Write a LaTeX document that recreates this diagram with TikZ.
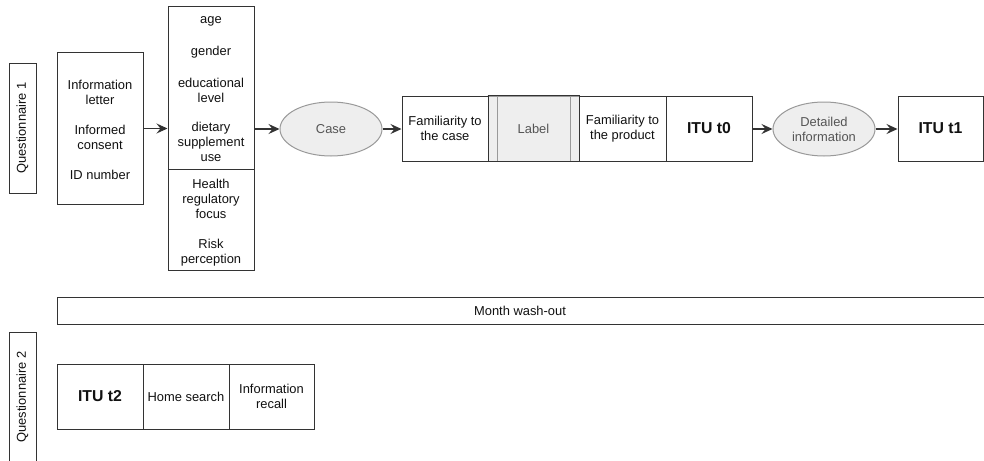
\documentclass[tikz,border=0pt]{standalone}
\usepackage{fontspec}
\setmainfont{Liberation Sans}
\usetikzlibrary{shapes.geometric,arrows.meta}
\definecolor{edge}{HTML}{333333}
\definecolor{softedge}{HTML}{999999}
\definecolor{softfill}{HTML}{EEEEEE}
\definecolor{softtext}{HTML}{555555}
\definecolor{ink}{HTML}{111111}
\tikzset{
  box/.style={draw=edge, line width=1pt, rectangle, inner sep=0pt, align=center,
    text=ink, font=\fontsize{12.9}{15}\selectfont},
  txt/.style={inner sep=0pt, align=center, text=ink, font=\fontsize{12.9}{15}\selectfont},
  bold/.style={font=\fontsize{15.8}{18}\selectfont\bfseries},
  strip/.style={draw=softedge, fill=softfill, line width=1pt, inner sep=0pt,
    minimum height=65pt},
  oval/.style={draw=softedge, fill=softfill, line width=1pt, ellipse, inner sep=0pt,
    minimum width=102pt, minimum height=54pt, align=center, text=softtext,
    font=\fontsize{12.9}{15}\selectfont},
  flow/.style={draw=edge, line width=1.2pt,
    -{Stealth[length=11pt,width=10pt,inset=4pt]}},
}
\begin{document}
\begin{tikzpicture}[x=1pt,y=-1pt]
\useasboundingbox (0,0) rectangle (984,460);
\clip (0,0) rectangle (984,460);
\fill[white] (0,0) rectangle (984,460);

% questionnaire 1 column
\node[box, minimum width=27pt, minimum height=130pt] (q1) at (22.5,128) {};
\node[txt, rotate=90] (q1t) at (q1.center) {Questionnaire 1};

% information box
\node[box, minimum width=86pt, minimum height=151pt] (info) at (100,128.5) {};
\node[txt] (infoa) at (100,92.5) {Information\\letter};
\node[txt] (infob) at (100,137.5) {Informed\\consent};
\node[txt] (infoc) at (100,175) {ID number};

% demographics and personal traits
\node[box, minimum width=86pt, minimum height=162pt] (demoA) at (211,88) {};
\node[box, minimum width=86pt, minimum height=101pt] (demoB) at (211,219.5) {};
\node[txt] (age) at (211,21) {age};
\node[txt] (gender) at (211,52) {gender};
\node[txt] (edu) at (211,90) {educational\\level};
\node[txt] (diet) at (211,142) {dietary\\supplement\\use};
\node[txt] (focus) at (211,198.5) {Health\\regulatory\\focus};
\node[txt] (risk) at (211,252.5) {Risk\\perception};

% case presentation: grey label strip first, framed boxes on top
\node[oval] (case) at (331,129) {Case};
\node[strip, minimum width=9pt] (gapL) at (492.5,128.5) {};
\node[strip, minimum width=73pt, text=softtext,
      font=\fontsize{12.9}{15}\selectfont] (label) at (533.5,128.5) {Label};
\node[strip, minimum width=9pt] (gapR) at (574.5,128.5) {};
\draw[edge, line width=1pt] (gapL.north west) -- (gapR.north east)
  (gapL.south west) -- (gapR.south east);
\node[box, minimum width=86pt, minimum height=65pt] (fcase) at (445,128.5) {Familiarity to\\the case};
\node[box, minimum width=87pt, minimum height=65pt] (fprod) at (622.5,128.5) {Familiarity to\\the product};
\node[box, bold, minimum width=86pt, minimum height=65pt] (itu0) at (709,128.5) {ITU t0};
\node[oval] (detail) at (824,129) {Detailed\\information};
\node[box, bold, minimum width=85pt, minimum height=65pt] (itu1) at (940.5,128.5) {ITU t1};

% connectors
\draw[flow] (info.east) -- (info.east -| demoA.west);
\draw[flow] (case.west -| demoA.east) -- (case.west);
\draw[flow] (case.east) -- (case.east -| fcase.west);
\draw[flow] (detail.west -| itu0.east) -- (detail.west);
\draw[flow] (detail.east) -- (detail.east -| itu1.west);

% wash-out period
\draw[edge, line width=1pt] (57,297) rectangle (992,324);
\node[txt] (wash) at (520,310.5) {Month wash-out};

% questionnaire 2
\node[box, minimum width=27pt, minimum height=130pt] (q2) at (22.5,397) {};
\node[txt, rotate=90] (q2t) at (q2.center) {Questionnaire 2};
\node[box, bold, minimum width=86pt, minimum height=65pt] (itu2) at (100,396.5) {ITU t2};
\node[box, minimum width=86pt, minimum height=65pt] (home) at (186,396.5) {Home search};
\node[box, minimum width=85pt, minimum height=65pt] (recall) at (271.5,396.5) {Information\\recall};
\end{tikzpicture}
\end{document}
